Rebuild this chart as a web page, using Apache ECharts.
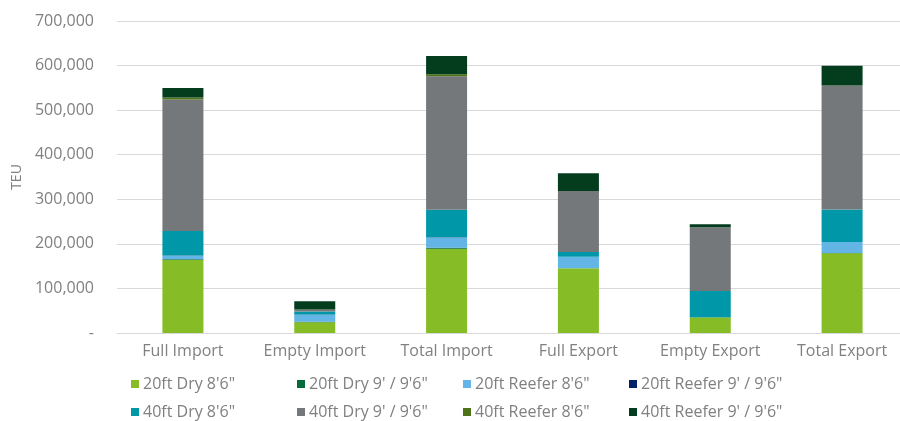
<!DOCTYPE html>
<html>
<head>
<meta charset="utf-8">
<script src="https://cdn.jsdelivr.net/npm/echarts@6/dist/echarts.min.js"></script>
<style>
  html, body { margin: 0; padding: 0; background: #fff; }
  #chart { width: 900px; height: 421px; }
</style>
</head>
<body>
<div id="chart"></div>
<script>
// categories on the x axis
const categories = ['Full Import', 'Empty Import', 'Total Import', 'Full Export', 'Empty Export', 'Total Export'];

// TEU per container type
const dry20_86   = [164000, 24000, 189000, 145000, 35000, 179000];
const dry20_96   = [1500, 1000, 2000, 0, 500, 500];
const reefer20_86 = [8000, 16000, 23000, 26000, 0, 24500];
const reefer20_96 = [300, 500, 800, 0, 0, 0];
const dry40_86   = [55000, 6500, 62000, 10700, 58500, 73000];
const dry40_96   = [295000, 4000, 299000, 137000, 143000, 277500];
const reefer40_86 = [4500, 500, 4500, 0, 0, 1000];
const reefer40_96 = [21500, 19000, 41000, 39500, 7000, 44000];

const seriesNames = ['20ft Dry 8\'6"', '20ft Dry 9\' / 9\'6"', '20ft Reefer 8\'6"', '20ft Reefer 9\' / 9\'6"',
  '40ft Dry 8\'6"', '40ft Dry 9\' / 9\'6"', '40ft Reefer 8\'6"', '40ft Reefer 9\' / 9\'6"'];
const seriesData = [dry20_86, dry20_96, reefer20_86, reefer20_96, dry40_86, dry40_96, reefer40_86, reefer40_96];
const colors = ['#86BC25', '#046A38', '#62B5E5', '#012169', '#0097A9', '#75787B', '#4E7318', '#043C1E'];

const font = '"Open Sans", "Noto Sans", sans-serif';
const grey = '#808080';

const series = seriesNames.map((name, i) => ({
  name: name,
  type: 'bar',
  stack: 'teu',
  barWidth: 41,
  data: seriesData[i],
  itemStyle: { color: colors[i] }
}));

// one legend per item so the columns line up like the original
const legends = seriesNames.map((name, i) => ({
  left: 131 + (i % 4) * 166,
  top: 376 + Math.floor(i / 4) * 28,
  itemWidth: 8,
  itemHeight: 8,
  itemGap: 0,
  icon: 'rect',
  padding: 0,
  data: [name],
  textStyle: { color: grey, fontSize: 16, fontFamily: font, padding: [0, 0, 0, -1] }
}));

const option = {
  animation: false,
  color: colors,
  textStyle: { fontFamily: font },
  grid: { left: 117, width: 791, top: 21, bottom: 88, outerBoundsMode: 'none', containLabel: false },
  legend: legends,
  xAxis: {
    type: 'category',
    data: categories,
    axisLine: { show: true, lineStyle: { color: '#d9d9d9' } },
    axisTick: { show: false },
    axisLabel: { color: grey, fontSize: 16, margin: 10, interval: 0, hideOverlap: false, fontFamily: font }
  },
  yAxis: {
    type: 'value',
    min: 0,
    max: 700000,
    interval: 100000,
    name: 'TEU',
    nameLocation: 'middle',
    nameGap: 93,
    nameTextStyle: { color: grey, fontSize: 14, fontFamily: font },
    axisLine: { show: false },
    axisTick: { show: false },
    splitLine: { lineStyle: { color: '#d9d9d9', width: 1 } },
    axisLabel: {
      color: grey,
      fontSize: 16,
      margin: 23,
      fontFamily: font,
      formatter: v => v === 0 ? '-' : v.toLocaleString('en-US')
    }
  },
  series: series
};

const myChart = echarts.init(document.getElementById('chart'));
myChart.setOption(option);
</script>
</body>
</html>
